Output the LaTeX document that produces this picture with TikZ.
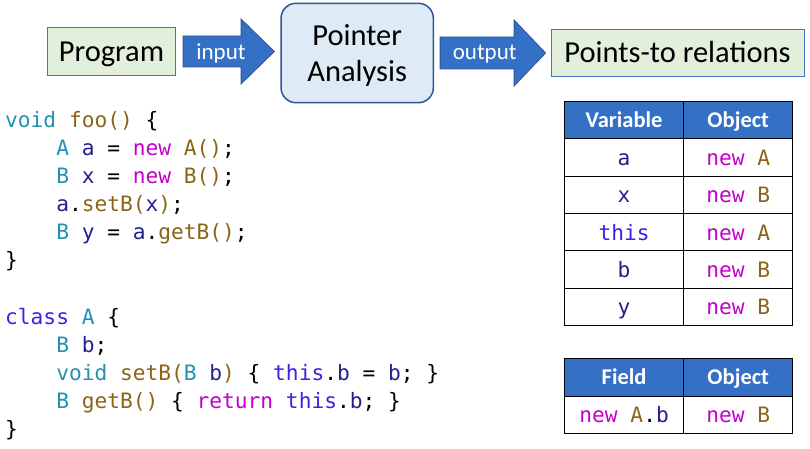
\documentclass[tikz,border=0pt]{standalone}
\usepackage{fontspec}
\setmainfont{Carlito}
\setmonofont{DejaVu Sans Mono}
\usetikzlibrary{calc}

\definecolor{boxgreen}{HTML}{E2EFDA}
\definecolor{boxblue}{HTML}{DEEBF7}
\definecolor{edgeblue}{HTML}{4472C4}
\definecolor{darkblue}{HTML}{2F5597}
\definecolor{arrowblue}{HTML}{3470C6}
\definecolor{codetype}{HTML}{2391B0}
\definecolor{codevar}{HTML}{21208C}
\definecolor{codenew}{HTML}{C400CC}
\definecolor{codefun}{HTML}{8B6418}
\definecolor{codekw}{HTML}{3A22E6}

\newcommand{\cty}[1]{\textcolor{codetype}{#1}}
\newcommand{\cvar}[1]{\textcolor{codevar}{#1}}
\newcommand{\cnew}[1]{\textcolor{codenew}{#1}}
\newcommand{\cfun}[1]{\textcolor{codefun}{#1}}
\newcommand{\ckw}[1]{\textcolor{codekw}{#1}}

\tikzset{
  topbox/.style={draw=edgeblue, line width=0.8pt, fill=boxgreen, inner sep=0pt,
    font=\fontsize{30.5}{36}\selectfont, text height=24.4pt, text depth=4pt},
  pabox/.style={draw=darkblue, line width=1.5pt, fill=boxblue, rounded corners=15pt,
    inner sep=0pt, align=center, font=\fontsize{30.5}{36}\selectfont},
  blockarrow/.style={fill=arrowblue, draw=darkblue, line width=0.8pt},
  arrowlbl/.style={anchor=base, inner sep=0pt, text=white, font=\fontsize{23}{27}\selectfont},
  code/.style={anchor=base west, inner sep=0pt, font=\fontsize{21.2}{28}\ttfamily},
  cell/.style={draw=black, line width=0.9pt, minimum height=37.3pt, inner sep=0pt,
    anchor=north west, font=\fontsize{21.2}{26}\ttfamily, text height=16pt, text depth=0pt},
  hdr/.style={cell, fill=arrowblue, text=white, minimum height=37.8pt,
    font=\fontsize{22.5}{27}\selectfont\bfseries, text height=14.4pt},
  colA/.style={minimum width=119.3pt},
  colB/.style={minimum width=109pt}
}

\begin{document}
\begin{tikzpicture}[x=1pt, y=-1pt]
  \useasboundingbox (0,0) rectangle (810,449);

  % pipeline
  \node[topbox, minimum width=128.4pt, minimum height=47.6pt] (prog) at (111.5,51.5) {Program};
  \node[pabox, minimum width=152.3pt, minimum height=99.4pt] (pa) at (357.2,53)
    {\rule{0pt}{28.4pt}Pointer\\Analysis\rule[-7pt]{0pt}{0pt}};
  \node[topbox, minimum width=253pt, minimum height=47pt] (ptr) at (677.5,52.5) {Points-to relations};

  \draw[blockarrow] ($(prog.east)+(7,-15.5)$) -- ++(58,0) -- ++(0,-17) -- ($(pa.west)+(-6,-1.5)$)
    -- ($(prog.east)+(65,32.5)$) -- ++(0,-17) -- ($(prog.east)+(7,15.5)$) -- cycle;
  \draw[blockarrow] ($(pa.east)+(6,-16)$) -- ++(74,0) -- ++(0,-17) -- ($(ptr.west)+(-5,0.5)$)
    -- ($(pa.east)+(80,33)$) -- ++(0,-17) -- ($(pa.east)+(6,16)$) -- cycle;
  \node[arrowlbl] (inlbl) at (221,59.3) {input};
  \node[arrowlbl] (outlbl) at (484.7,60) {output};

  % program text
  \node[code] (l1) at (5,128) {\cty{void} \cfun{foo()} \{};
  \node[code] (l2) at (56.05,156) {\cty{A} \cvar{a} = \cnew{new} \cfun{A()};};
  \node[code] (l3) at (56.05,183.5) {\cty{B} \cvar{x} = \cnew{new} \cfun{B()};};
  \node[code] (l4) at (56.05,211.5) {\cvar{a}.\cfun{setB(}\cvar{x}\cfun{)};};
  \node[code] (l5) at (56.05,239) {\cty{B} \cvar{y} = \cvar{a}.\cfun{getB()};};
  \node[code] (l6) at (5,267) {\}};

  \node[code] (l7) at (5,324) {\ckw{class} \cty{A} \{};
  \node[code] (l8) at (56.05,352.5) {\cty{B} \cvar{b};};
  \node[code] (l9) at (56.05,380.5) {\cty{void} \cfun{setB(}\cty{B} \cvar{b}\cfun{)} \{ \ckw{this}.\cvar{b} = \cvar{b}; \}};
  \node[code] (l10) at (56.05,408.3) {\cty{B} \cfun{getB()} \{ \cnew{return} \ckw{this}.\cvar{b}; \}};
  \node[code] (l11) at (5,436) {\}};

  % variable table
  \node[hdr, colA] (vhead) at (564,100.7) {Variable};
  \node[hdr, colB] (vobj) at (683.3,100.7) {Object};
  \node[cell, colA] (va) at (564,138.3) {\cvar{a}};
  \node[cell, colB] (oa) at (683.3,138.3) {\cnew{new} \cfun{A}};
  \node[cell, colA] (vx) at (564,175.6) {\cvar{x}};
  \node[cell, colB] (ox) at (683.3,175.6) {\cnew{new} \cfun{B}};
  \node[cell, colA] (vthis) at (564,212.9) {\ckw{this}};
  \node[cell, colB] (othis) at (683.3,212.9) {\cnew{new} \cfun{A}};
  \node[cell, colA] (vb) at (564,250.2) {\cvar{b}};
  \node[cell, colB] (ob) at (683.3,250.2) {\cnew{new} \cfun{B}};
  \node[cell, colA] (vy) at (564,287.5) {\cvar{y}};
  \node[cell, colB] (oy) at (683.3,287.5) {\cnew{new} \cfun{B}};

  % field table
  \node[hdr, colA] (fhead) at (564,357.7) {Field};
  \node[hdr, colB] (fobj) at (683.3,357.7) {Object};
  \node[cell, colA] (fab) at (564,395.5) {\cnew{new} \cfun{A}.\cvar{b}};
  \node[cell, colB] (fob) at (683.3,395.5) {\cnew{new} \cfun{B}};
\end{tikzpicture}
\end{document}
